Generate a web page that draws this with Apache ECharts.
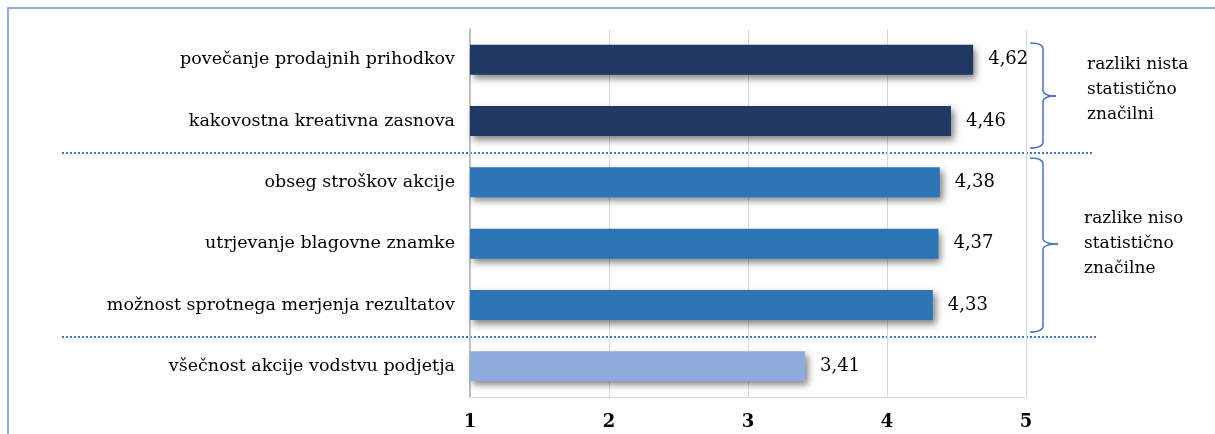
<!DOCTYPE html>
<html>
<head>
<meta charset="utf-8">
<script src="https://cdn.jsdelivr.net/npm/echarts@6/dist/echarts.min.js"></script>
<style>
  html, body { margin: 0; padding: 0; background: #ffffff; }
  #chart { width: 1215px; height: 434px; }
</style>
</head>
<body>
<div id="chart"></div>
<script>
// Criteria, top to bottom
const categories = [
  'povečanje prodajnih prihodkov',
  'kakovostna kreativna zasnova',
  'obseg stroškov akcije',
  'utrjevanje blagovne znamke',
  'možnost sprotnega merjenja rezultatov',
  'všečnost akcije vodstvu podjetja'
];
// Mean scores (scale 1–5)
const values = [4.62, 4.46, 4.38, 4.37, 4.33, 3.41];
// Group index of each criterion (0 = first bracket, 1 = second bracket, 2 = alone)
const groupOf = [0, 0, 1, 1, 1, 2];
// Bracket notes
const noteTop = ['razliki nista', 'statistično', 'značilni'];
const noteMid = ['razlike niso', 'statistično', 'značilne'];

const groupColors = ['#203864', '#2e75b6', '#8faadc'];
const serif = '"DejaVu Serif", "Liberation Serif", serif';
const braceColor = '#4472c4';

const chart = echarts.init(document.getElementById('chart'));

const fmt = v => v.toFixed(2).replace('.', ',');

// Curly bracket built from straight segments and quadratic curves
function brace(x0, xs, xt, top, mid, bottom) {
  const st = { fill: 'none', stroke: braceColor, lineWidth: 1.5 };
  const r = 6;
  const curve = (x1, y1, cx, cy, x2, y2) => ({
    type: 'bezierCurve', silent: true,
    shape: { x1, y1, cpx1: cx, cpy1: cy, x2, y2 }, style: st
  });
  const seg = (x1, y1, x2, y2) => ({
    type: 'line', silent: true, shape: { x1, y1, x2, y2 }, style: st
  });
  return {
    type: 'group', silent: true,
    children: [
      curve(x0, top, xs, top, xs, top + r),
      seg(xs, top + r, xs, mid - r),
      curve(xs, mid - r, xs, mid, xt, mid),
      curve(xt, mid, xs, mid, xs, mid + r),
      seg(xs, mid + r, xs, bottom - r),
      curve(xs, bottom - r, xs, bottom, x0, bottom)
    ]
  };
}

const option = {
  animation: false,
  backgroundColor: '#ffffff',
  grid: { left: 470, right: 189, top: 29, bottom: 37, containLabel: false },
  xAxis: {
    type: 'value',
    min: 1,
    max: 5,
    interval: 1,
    axisLine: { show: true, lineStyle: { color: '#d9d9d9', width: 1 } },
    axisTick: { show: false },
    splitLine: { show: true, lineStyle: { color: '#d9d9d9', width: 1 } },
    axisLabel: {
      color: '#000000',
      fontFamily: serif,
      fontWeight: 'bold',
      fontSize: 18,
      margin: 16
    }
  },
  yAxis: {
    type: 'category',
    data: categories,
    inverse: true,
    axisLine: { show: true, lineStyle: { color: '#bfbfbf', width: 2 } },
    axisTick: { show: false },
    axisLabel: {
      color: '#000000',
      fontFamily: serif,
      fontSize: 17.5,
      margin: 15
    }
  },
  series: [{
    type: 'bar',
    data: values.map((v, i) => ({
      value: v,
      itemStyle: { color: groupColors[groupOf[i]] }
    })),
    barWidth: 30,
    itemStyle: {
      shadowColor: 'rgba(0,0,0,0.5)',
      shadowBlur: 7,
      shadowOffsetX: 3,
      shadowOffsetY: 4
    },
    label: {
      show: true,
      position: 'right',
      distance: 15,
      color: '#000000',
      fontFamily: serif,
      fontSize: 18,
      formatter: p => fmt(p.value)
    }
  }],
  graphic: [
    // outer frame
    {
      type: 'rect', silent: true, z: 0,
      shape: { x: 8, y: 8, width: 1260, height: 480 },
      style: { fill: 'none', stroke: '#8faadc', lineWidth: 2 }
    },
    // group separators
    {
      type: 'line', silent: true,
      shape: { x1: 62, y1: 153, x2: 1093, y2: 153 },
      style: { stroke: braceColor, lineWidth: 2, lineDash: [2, 2] }
    },
    {
      type: 'line', silent: true,
      shape: { x1: 62, y1: 337, x2: 1098, y2: 337 },
      style: { stroke: braceColor, lineWidth: 2, lineDash: [2, 2] }
    },
    // brackets
    brace(1030, 1043, 1056, 43, 96, 148),
    brace(1030, 1043, 1058, 158, 244, 332),
    // bracket notes
    {
      type: 'text', silent: true,
      left: 1087, top: 52,
      style: {
        text: noteTop.join('\n'),
        font: '17px ' + serif,
        lineHeight: 25,
        fill: '#000000'
      }
    },
    {
      type: 'text', silent: true,
      left: 1084, top: 206,
      style: {
        text: noteMid.join('\n'),
        font: '17px ' + serif,
        lineHeight: 25,
        fill: '#000000'
      }
    }
  ]
};

chart.setOption(option);
</script>
</body>
</html>
